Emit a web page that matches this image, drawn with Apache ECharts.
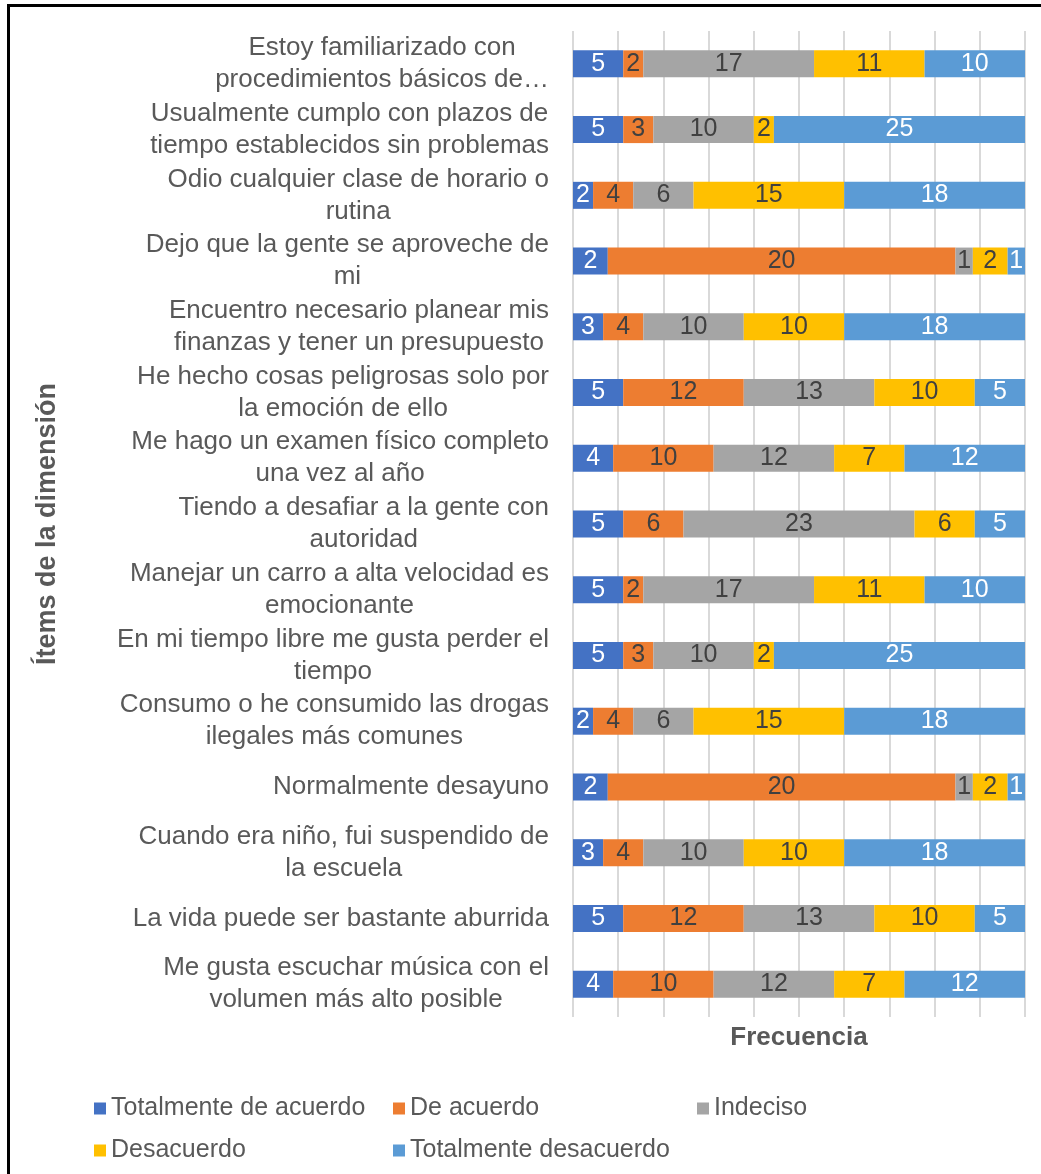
<!DOCTYPE html>
<html>
<head>
<meta charset="utf-8">
<script src="https://cdn.jsdelivr.net/npm/echarts@6/dist/echarts.min.js"></script>
<style>
    html, body { margin: 0; padding: 0; background: #fff; overflow: hidden; }
    #chart { position: absolute; left: 0; top: 0; width: 1041px; height: 1174px; }
    #frame { position: absolute; left: 7px; top: 4px; width: 1100px; height: 1300px; border: 3px solid #000; pointer-events: none; }
</style>
</head>
<body>
<div id="chart"></div>
<div id="frame"></div>
<script>
// items, top to bottom
const items = [
    'Estoy familiarizado con\nprocedimientos básicos de…',
    'Usualmente cumplo con plazos de\ntiempo establecidos sin problemas',
    'Odio cualquier clase de horario o\nrutina',
    'Dejo que la gente se aproveche de\nmi',
    'Encuentro necesario planear mis\nfinanzas y tener un presupuesto',
    'He hecho cosas peligrosas solo por\nla emoción de ello',
    'Me hago un examen físico completo\nuna vez al año',
    'Tiendo a desafiar a la gente con\nautoridad',
    'Manejar un carro a alta velocidad es\nemocionante',
    'En mi tiempo libre me gusta perder el\ntiempo',
    'Consumo o he consumido las drogas\nilegales más comunes',
    'Normalmente desayuno',
    'Cuando era niño, fui suspendido de\nla escuela',
    'La vida puede ser bastante aburrida',
    'Me gusta escuchar música con el\nvolumen más alto posible'
];

const seriesNames = ['Totalmente de acuerdo', 'De acuerdo', 'Indeciso', 'Desacuerdo', 'Totalmente desacuerdo'];

const totalmenteDeAcuerdo  = [5, 5, 2, 2, 3, 5, 4, 5, 5, 5, 2, 2, 3, 5, 4];
const deAcuerdo            = [2, 3, 4, 20, 4, 12, 10, 6, 2, 3, 4, 20, 4, 12, 10];
const indeciso             = [17, 10, 6, 1, 10, 13, 12, 23, 17, 10, 6, 1, 10, 13, 12];
const desacuerdo           = [11, 2, 15, 2, 10, 10, 7, 6, 11, 2, 15, 2, 10, 10, 7];
const totalmenteDesacuerdo = [10, 25, 18, 1, 18, 5, 12, 5, 10, 25, 18, 1, 18, 5, 12];

const colors = ['#4472C4', '#ED7D31', '#A5A5A5', '#FFC000', '#5B9BD5'];
const labelColors = ['#ffffff', '#404040', '#404040', '#404040', '#ffffff'];

const raw = [totalmenteDeAcuerdo, deAcuerdo, indeciso, desacuerdo, totalmenteDesacuerdo];
const totals = items.map((_, i) => raw.reduce((s, arr) => s + arr[i], 0));

const series = raw.map((arr, k) => ({
    name: seriesNames[k],
    type: 'bar',
    stack: 'total',
    barWidth: 27,
    itemStyle: { color: colors[k] },
    label: {
        show: true,
        position: 'inside',
        fontSize: 25,
        fontFamily: 'Liberation Sans, Arial, sans-serif',
        color: labelColors[k],
        formatter: p => arr[p.dataIndex]
    },
    emphasis: { disabled: true },
    data: arr.map((v, i) => v / totals[i] * 100)
}));

const legendBase = {
    orient: 'vertical',
    icon: 'rect',
    itemWidth: 12,
    itemHeight: 12,
    itemGap: 17,
    top: 1091,
    textStyle: { fontSize: 25, color: '#595959', fontFamily: 'Liberation Sans, Arial, sans-serif' }
};

const chart = echarts.init(document.getElementById('chart'));
chart.setOption({
    animation: false,
    textStyle: { fontFamily: 'Liberation Sans, Arial, sans-serif' },
    grid: { left: 573, right: 16, top: 31, bottom: 157 },
    legend: [
        Object.assign({}, legendBase, { left: 89, data: [seriesNames[0], seriesNames[3]] }),
        Object.assign({}, legendBase, { left: 388, data: [seriesNames[1], seriesNames[4]] }),
        Object.assign({}, legendBase, { left: 692, data: [seriesNames[2]] })
    ],
    xAxis: {
        type: 'value',
        min: 0,
        max: 100,
        interval: 10,
        axisLabel: { show: false },
        axisTick: { show: false },
        axisLine: { show: false },
        splitLine: { lineStyle: { color: '#d9d9d9', width: 2 } },
        name: 'Frecuencia',
        nameLocation: 'middle',
        nameGap: 8,
        nameTextStyle: { fontSize: 26, fontWeight: 'bold', color: '#595959', verticalAlign: 'top' }
    },
    yAxis: {
        type: 'category',
        inverse: true,
        data: items,
        axisLine: { show: false },
        axisTick: { show: false },
        axisLabel: {
            margin: 24,
            formatter: v => v.split('\n').map(l => '{c|' + l + '}').join('\n'),
            rich: {
                c: { align: 'center', fontSize: 26, lineHeight: 32, color: '#595959' }
            }
        },
        name: 'Ítems de la dimensión',
        nameLocation: 'middle',
        nameGap: 512,
        nameRotate: 90,
        nameTextStyle: { fontSize: 27, fontWeight: 'bold', color: '#595959' }
    },
    series: series
});
</script>
</body>
</html>
